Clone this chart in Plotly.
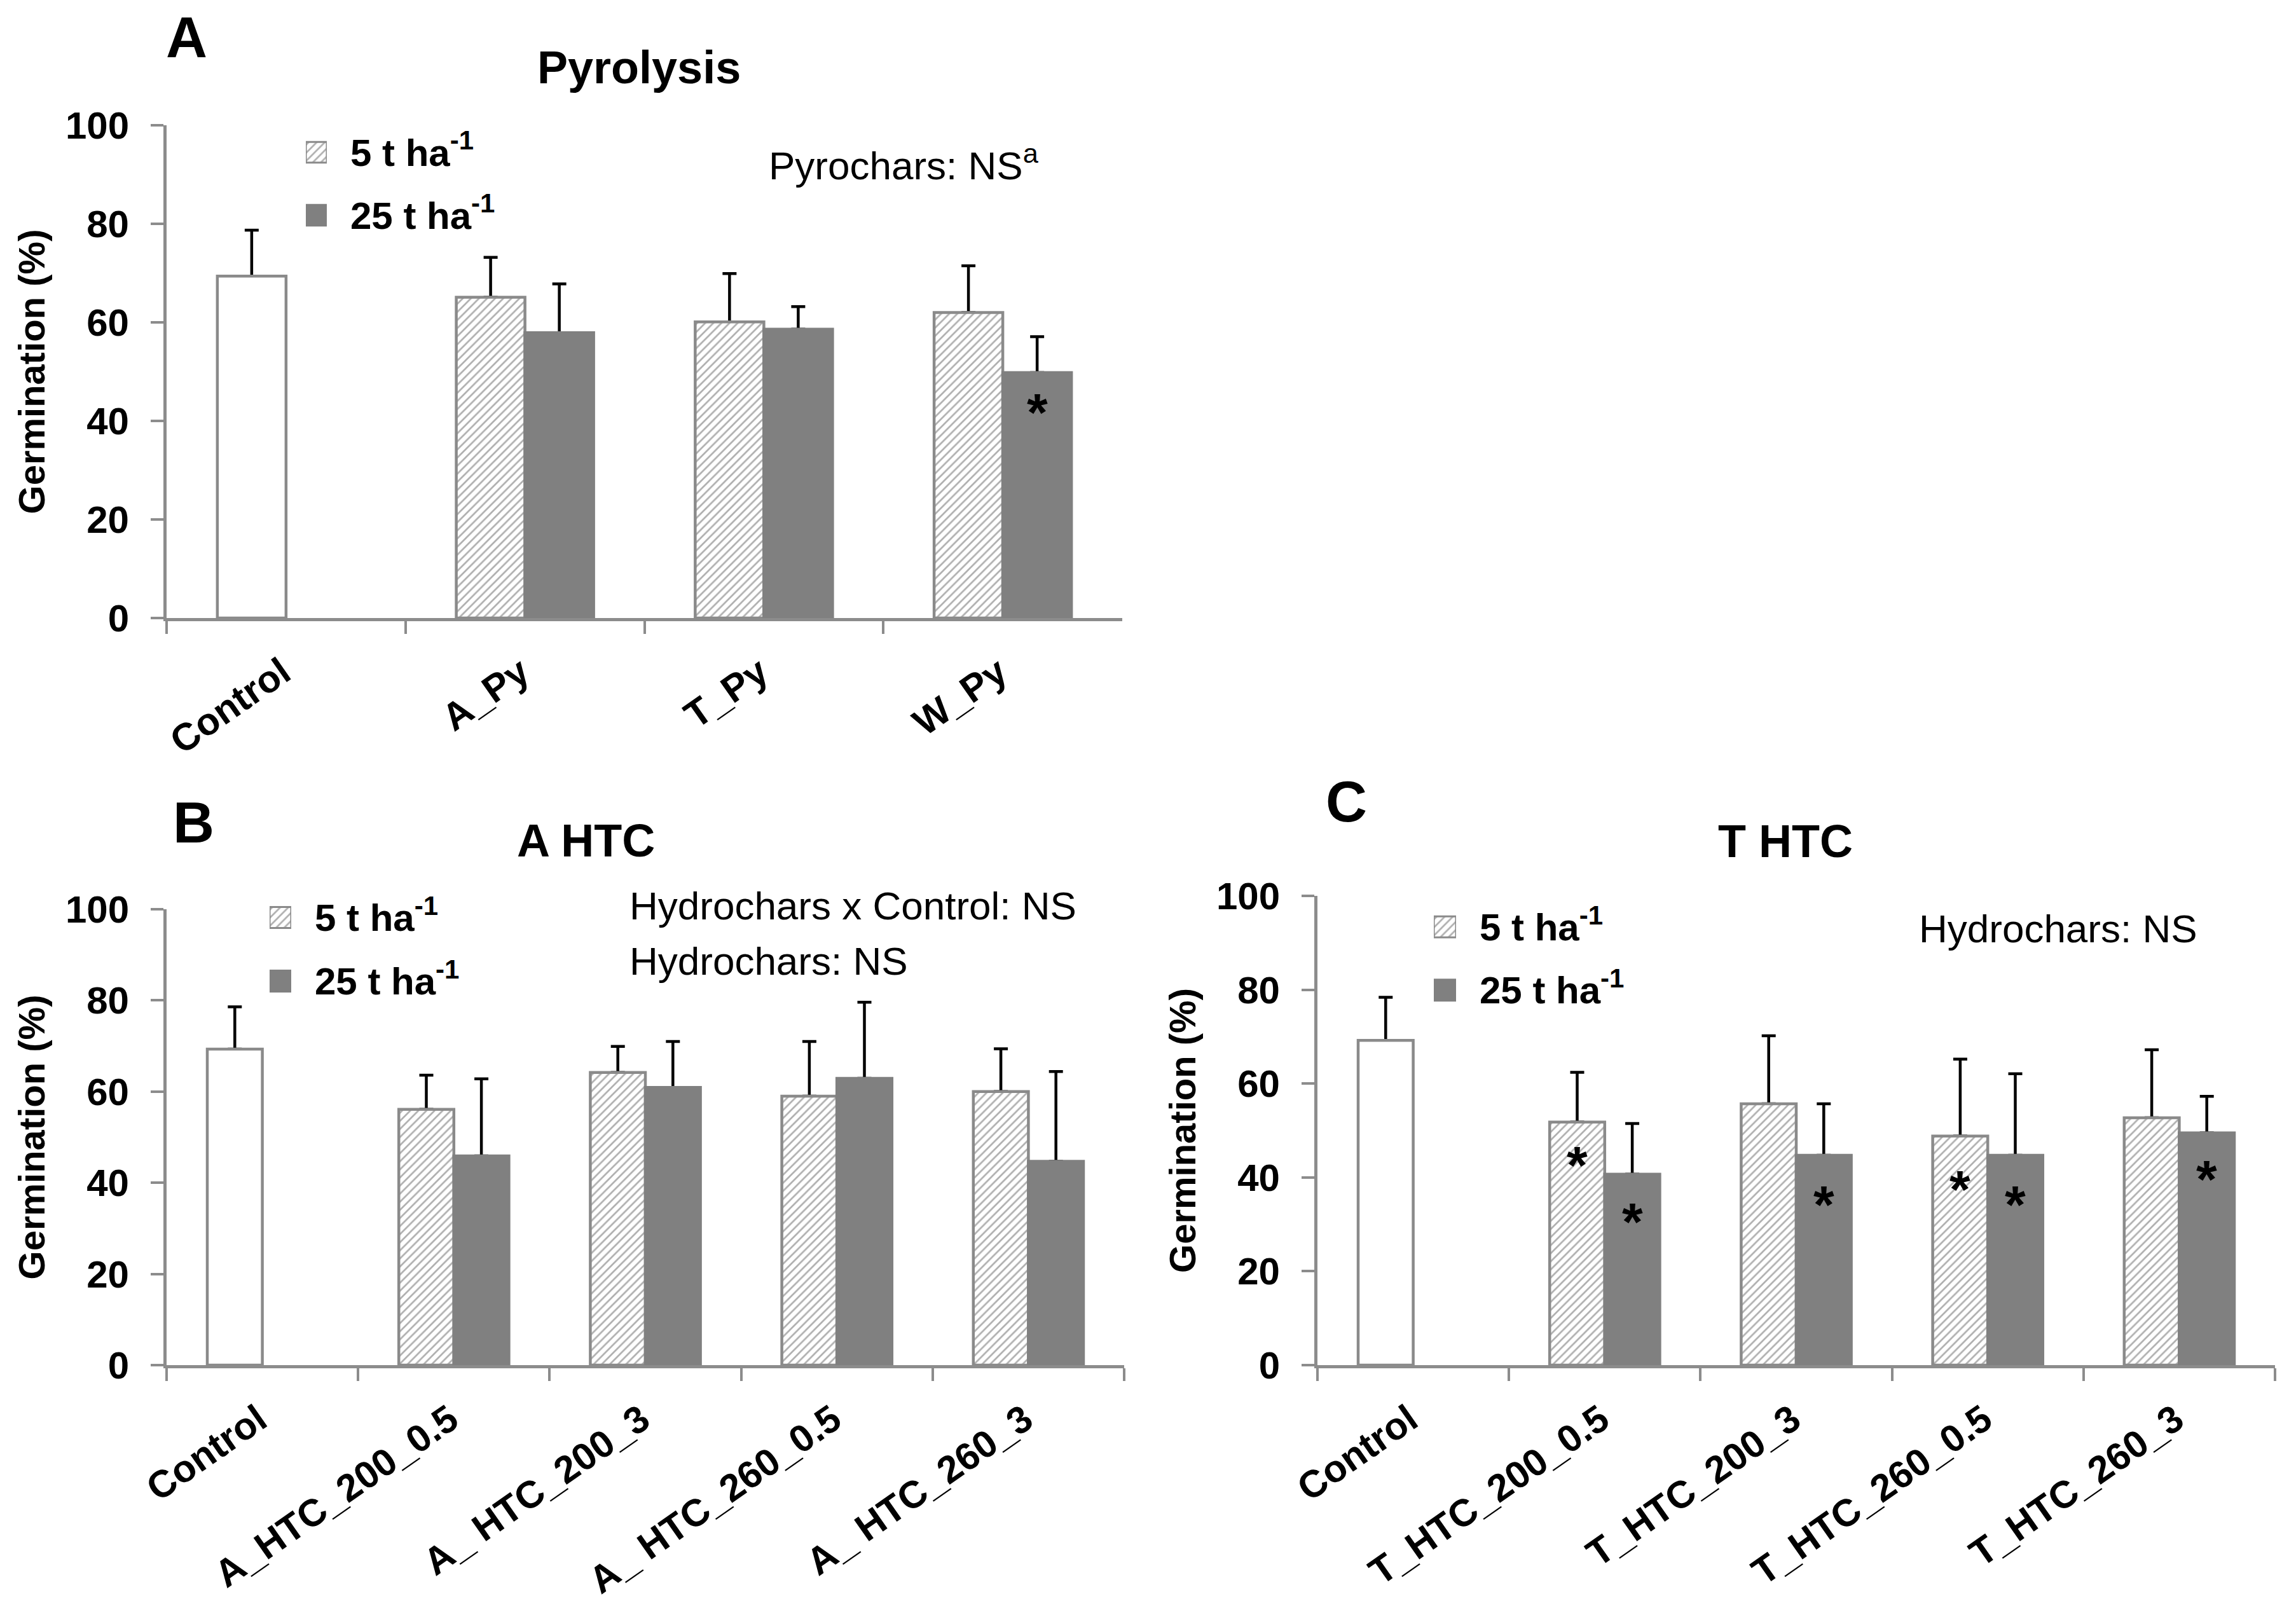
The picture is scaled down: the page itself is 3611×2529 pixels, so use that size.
import plotly.graph_objects as go

# reference picture size in px; the page body adds an 8 px margin
W, H = 3611, 2529
PAGE_PAD = 8
FW, FH = W - 2 * PAGE_PAD, H - 2 * PAGE_PAD

# ------------------------------------------------------------
# Data (germination %, upper error bar)
# ------------------------------------------------------------
cats_pyro = ["Control", "A_Py", "T_Py", "W_Py"]
ctrl_pyro = 69.4
ctrl_pyro_err = 9.3
low_pyro = [65.1, 60.1, 62.0]
low_pyro_err = [8.1, 9.8, 9.5]
high_pyro = [57.9, 58.6, 49.8]
high_pyro_err = [9.9, 4.6, 7.3]
star_low_pyro = [None, None, None]
star_high_pyro = [None, None, 43.0]

cats_ahtc = ["Control", "A_HTC_200_0.5", "A_ HTC_200_3", "A_ HTC_260_0.5", "A_ HTC_260_3"]
ctrl_ahtc = 69.3
ctrl_ahtc_err = 9.3
low_ahtc = [56.1, 64.2, 59.0, 60.0]
low_ahtc_err = [7.5, 5.7, 12.0, 9.4]
high_ahtc = [45.9, 60.9, 62.9, 44.7]
high_ahtc_err = [16.9, 10.1, 16.7, 19.7]
star_low_ahtc = [None, None, None, None]
star_high_ahtc = [None, None, None, None]

cats_thtc = ["Control", "T_HTC_200_0.5", "T_HTC_200_3", "T_HTC_260_0.5", "T_HTC_260_3"]
ctrl_thtc = 69.2
ctrl_thtc_err = 9.2
low_thtc = [51.8, 55.7, 48.8, 52.7]
low_thtc_err = [10.6, 14.5, 16.4, 14.5]
high_thtc = [40.7, 44.7, 44.7, 49.5]
high_thtc_err = [10.8, 11.0, 17.4, 7.8]
star_low_thtc = [43.9, None, 38.7, None]
star_high_thtc = [31.8, 35.5, 35.5, 41.0]

legend_labels = ["5 t ha<sup>-1</sup>", "25 t ha<sup>-1</sup>"]

# ------------------------------------------------------------
# Styles
# ------------------------------------------------------------
FONT = "Liberation Sans, Arial, sans-serif"
AXIS_GRAY = "#8c8c8c"
OUTLINE = "#8a8a8a"
DARK = "#808080"
HATCH = "#5f5f5f"
BARGAP = 0.425

hatch = dict(shape="/", fgcolor=HATCH, bgcolor="white", size=9, solidity=0.3)


def px_x(p):
    return (p - PAGE_PAD) / FW


def px_y(p):
    return 1 - (p - PAGE_PAD) / FH


fig = go.Figure()


def add_panel(n, cats, ctrl, ctrl_err, low, low_err, high, high_err):
    xa = "x" if n == 1 else f"x{n}"
    ya = "y" if n == 1 else f"y{n}"
    groups = cats[1:]

    # error bars go on see-through bars drawn first, so the real bars
    # drawn afterwards hide the lower cap (only the upper whisker shows)
    for x, y, e, og in [([cats[0]], [ctrl], [ctrl_err], "a"),
                        (groups, low, low_err, "a"),
                        (groups, high, high_err, "b")]:
        fig.add_trace(go.Bar(
            x=x, y=y, offsetgroup=og, xaxis=xa, yaxis=ya,
            marker=dict(color="rgba(0,0,0,0)", line=dict(width=0)),
            error_y=dict(type="data", symmetric=False, array=e,
                         arrayminus=[0] * len(e), color="black",
                         thickness=4.5, width=11),
            showlegend=False, hoverinfo="skip"))

    fig.add_trace(go.Bar(
        x=[cats[0]], y=[ctrl], offsetgroup="a", xaxis=xa, yaxis=ya,
        marker=dict(color="white", line=dict(color=OUTLINE, width=4.5)),
        showlegend=False))
    fig.add_trace(go.Bar(
        x=groups, y=low, offsetgroup="a", xaxis=xa, yaxis=ya,
        marker=dict(color="white", line=dict(color=OUTLINE, width=4.5),
                    pattern=hatch),
        showlegend=False))
    fig.add_trace(go.Bar(
        x=groups, y=high, offsetgroup="b", xaxis=xa, yaxis=ya,
        marker=dict(color=DARK, line=dict(color=DARK, width=4.5)),
        showlegend=False))


def add_key(n):
    # small two-bar "legend" drawn on its own hidden axis pair
    xa, ya = f"x{n}", f"y{n}"
    fig.add_trace(go.Bar(
        x=[1], y=[legend_labels[0]], orientation="h", width=0.33,
        offsetgroup="k", xaxis=xa, yaxis=ya,
        marker=dict(color="white", line=dict(color=OUTLINE, width=3),
                    pattern=hatch),
        showlegend=False, hoverinfo="skip"))
    fig.add_trace(go.Bar(
        x=[1], y=[legend_labels[1]], orientation="h", width=0.33,
        offsetgroup="k", xaxis=xa, yaxis=ya,
        marker=dict(color=DARK, line=dict(color=DARK, width=3)),
        showlegend=False, hoverinfo="skip"))


add_panel(1, cats_pyro, ctrl_pyro, ctrl_pyro_err, low_pyro, low_pyro_err, high_pyro, high_pyro_err)
add_panel(2, cats_ahtc, ctrl_ahtc, ctrl_ahtc_err, low_ahtc, low_ahtc_err, high_ahtc, high_ahtc_err)
add_panel(3, cats_thtc, ctrl_thtc, ctrl_thtc_err, low_thtc, low_thtc_err, high_thtc, high_thtc_err)
add_key(4)
add_key(5)
add_key(6)

# ------------------------------------------------------------
# Axes
# ------------------------------------------------------------
# plot areas in reference pixels: (left, right, top(100), bottom(0))
boxes = {1: (262, 1765, 197, 972), 2: (262, 1768, 1430, 2147), 3: (2072, 3578, 1409, 2147)}
# legend keys: (left, right, top, bottom) of the two-row block
keys = {4: (481, 514, 190, 388), 5: (424, 458, 1393, 1593), 6: (2255, 2290, 1408, 1607)}

layout = {}
for n, (l, r, t, b) in boxes.items():
    sx = "" if n == 1 else str(n)
    layout[f"xaxis{sx}"] = dict(
        domain=[px_x(l), px_x(r)], anchor=f"y{sx}", automargin=False,
        showline=True, linecolor=AXIS_GRAY, linewidth=5,
        ticks="outside", tickson="boundaries", ticklen=20, tickwidth=4,
        tickcolor=AXIS_GRAY, tickangle=-35, showgrid=False,
        ticklabelstandoff=22, ticklabelshift=-6,
        tickfont=dict(family=FONT, size=60, color="black", weight="bold"))
    layout[f"yaxis{sx}"] = dict(
        domain=[px_y(b), px_y(t)], anchor=f"x{sx}", range=[0, 100],
        automargin=False, dtick=20, showline=True, linecolor=AXIS_GRAY,
        linewidth=5, ticks="outside", ticklen=20, tickwidth=4,
        tickcolor=AXIS_GRAY, showgrid=False, zeroline=False,
        ticklabelstandoff=22,
        tickfont=dict(family=FONT, size=60, color="black", weight="bold"),
        title=dict(text="Germination (%)", standoff=15,
                   font=dict(family=FONT, size=58, color="black", weight="bold")))

for n, (l, r, t, b) in keys.items():
    layout[f"xaxis{n}"] = dict(domain=[px_x(l), px_x(r)], anchor=f"y{n}",
                               range=[0, 1], visible=False, automargin=False)
    layout[f"yaxis{n}"] = dict(
        domain=[px_y(b), px_y(t)], anchor=f"x{n}", side="right",
        type="category", range=[1.5, -0.5], showline=False, ticks="",
        showgrid=False, zeroline=False, ticklabelstandoff=36, automargin=False,
        tickfont=dict(family=FONT, size=60, color="black", weight="bold"))

# ------------------------------------------------------------
# Text: panel letters, titles, statistics notes, asterisks
# ------------------------------------------------------------
annotations = []


def note(text, x, y, size, bold, xanchor="left"):
    annotations.append(dict(
        text=text, x=px_x(x), y=px_y(y), xref="paper", yref="paper",
        xanchor=xanchor, yanchor="middle", showarrow=False,
        font=dict(family=FONT, size=size, color="black",
                  weight="bold" if bold else "normal")))


note("A", 259, 59, 90, True)
note("Pyrolysis", 1005, 106, 72, True, "center")
note("Pyrochars: NS<sup>a</sup>", 1207, 256, 62, False)
note("B", 270, 1294, 90, True)
note("A HTC", 921, 1322, 72, True, "center")
note("Hydrochars x Control: NS", 988, 1424, 62, False)
note("Hydrochars: NS", 988, 1511, 62, False)
note("C", 2083, 1261, 90, True)
note("T HTC", 2808, 1323, 72, True, "center")
note("Hydrochars: NS", 3016, 1460, 62, False)

STAR = 84
for n, cats, s_low, s_high in [(1, cats_pyro, star_low_pyro, star_high_pyro),
                               (2, cats_ahtc, star_low_ahtc, star_high_ahtc),
                               (3, cats_thtc, star_low_thtc, star_high_thtc)]:
    l, r, _, _ = boxes[n]
    # centre of each bar relative to the category centre, in px
    shift = (r - l) / len(cats) * (1 - BARGAP) / 4
    sx = "" if n == 1 else str(n)
    for cat, lo, hi in zip(cats[1:], s_low, s_high):
        for val, sgn in [(lo, -1), (hi, 1)]:
            if val is None:
                continue
            annotations.append(dict(
                text="*", x=cat, y=val, xref=f"x{sx}", yref=f"y{sx}",
                xshift=sgn * shift, yshift=-0.12 * STAR, showarrow=False,
                xanchor="center", yanchor="middle",
                font=dict(family=FONT, size=STAR, color="black", weight="bold")))

fig.update_layout(
    **layout,
    annotations=annotations,
    barmode="group",
    bargap=BARGAP,
    bargroupgap=0,
    width=FW,
    height=FH,
    margin=dict(l=0, r=0, t=0, b=0),
    paper_bgcolor="white",
    plot_bgcolor="white",
    showlegend=False,
    font=dict(family=FONT, color="black"),
)

fig.write_html("out.html")
